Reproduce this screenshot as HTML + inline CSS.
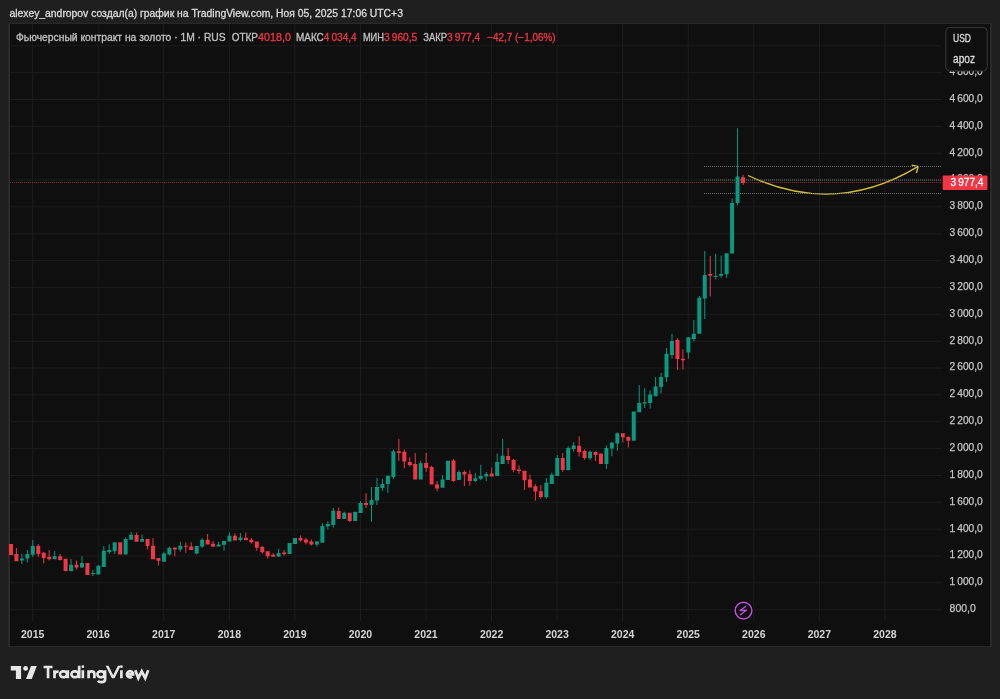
<!DOCTYPE html><html><head><meta charset="utf-8"><style>html,body{margin:0;padding:0;background:#1f1f1f;width:1000px;height:699px;overflow:hidden}svg{position:absolute;left:0;top:0;will-change:transform}text{font-family:"Liberation Sans",sans-serif}</style></head><body>
<svg width="1000" height="699" viewBox="0 0 1000 699">
<defs><clipPath id="pane"><rect x="9" y="24" width="933" height="597.5"/></clipPath></defs>
<rect x="8" y="23" width="984" height="624" fill="#292929"/>
<rect x="10" y="24" width="980" height="622" fill="#0f0f0f"/>
<path d="M10 609.70H942 M10 582.85H942 M10 555.99H942 M10 529.14H942 M10 502.29H942 M10 475.44H942 M10 448.58H942 M10 421.73H942 M10 394.88H942 M10 368.03H942 M10 341.17H942 M10 314.32H942 M10 287.47H942 M10 260.62H942 M10 233.76H942 M10 206.91H942 M10 180.06H942 M10 153.21H942 M10 126.35H942 M10 99.50H942 M10 72.65H942 M10 45.80H942 M32.65 24V621.5 M98.21 24V621.5 M163.77 24V621.5 M229.33 24V621.5 M294.88 24V621.5 M360.44 24V621.5 M426.00 24V621.5 M491.56 24V621.5 M557.12 24V621.5 M622.68 24V621.5 M688.23 24V621.5 M753.79 24V621.5 M819.35 24V621.5 M884.91 24V621.5" stroke="#1d1d1d" stroke-width="1" fill="none"/>
<text x="9.4" y="16.8" font-size="10" fill="#dbdbdb" stroke="#dbdbdb" stroke-width="0.3" textLength="393.5" lengthAdjust="spacingAndGlyphs">alexey_andropov создал(а) график на TradingView.com, Ноя 05, 2025 17:06 UTC+3</text>
<g clip-path="url(#pane)">
<path d="M748.1 175.5 Q835.3 216.8 918.2 166.4" stroke="#d2c03a" stroke-width="1.3" fill="none"/>
<path d="M911.6 165.2 L918.2 166.4 L916.4 173" stroke="#d2c03a" stroke-width="1.3" fill="none"/>
<line x1="10" y1="182.5" x2="942" y2="182.5" stroke="#f23645" stroke-width="1" stroke-dasharray="1 1" opacity="0.5"/>
<line x1="704" y1="166.5" x2="942" y2="166.5" stroke="#707070" stroke-width="1" stroke-dasharray="1 1"/>
<line x1="704" y1="180.0" x2="942" y2="180.0" stroke="#7a7a7a" stroke-width="1" stroke-dasharray="1 1"/>
<line x1="704" y1="193.5" x2="942" y2="193.5" stroke="#707070" stroke-width="1" stroke-dasharray="1 1"/>
<path d="M21.37 554.00h1V564.00h-1Z M19.87 558.50h4V560.50h-4Z M26.84 550.00h1V562.50h-1Z M25.34 554.00h4V558.50h-4Z M32.30 540.00h1V557.00h-1Z M30.80 546.00h4V554.80h-4Z M54.15 551.00h1V559.20h-1Z M52.65 556.20h4V559.20h-4Z M70.54 559.00h1V571.50h-1Z M69.04 564.80h4V571.00h-4Z M81.47 556.20h1V568.00h-1Z M79.97 563.00h4V567.50h-4Z M92.40 570.00h1V576.00h-1Z M90.90 573.00h4V574.00h-4Z M97.86 565.00h1V574.50h-1Z M96.36 565.80h4V574.50h-4Z M103.32 546.00h1V567.00h-1Z M101.82 550.80h4V567.00h-4Z M108.78 544.50h1V554.00h-1Z M107.28 550.00h4V552.00h-4Z M114.25 542.00h1V554.00h-1Z M112.75 542.50h4V551.20h-4Z M125.17 537.50h1V554.50h-1Z M123.67 539.00h4V554.50h-4Z M130.64 532.00h1V539.80h-1Z M129.14 534.80h4V539.80h-4Z M141.56 534.80h1V541.80h-1Z M140.06 539.00h4V541.80h-4Z M163.42 552.20h1V561.80h-1Z M161.92 553.50h4V561.80h-4Z M168.88 546.50h1V555.50h-1Z M167.38 547.80h4V554.50h-4Z M179.81 541.80h1V551.80h-1Z M178.31 545.80h4V549.50h-4Z M196.20 546.00h1V554.50h-1Z M194.70 546.00h4V553.50h-4Z M201.66 538.00h1V547.80h-1Z M200.16 539.80h4V546.50h-4Z M218.05 541.80h1V546.50h-1Z M216.55 544.50h4V546.50h-4Z M223.51 541.00h1V550.80h-1Z M222.01 541.00h4V544.80h-4Z M228.98 532.50h1V541.50h-1Z M227.48 535.80h4V541.50h-4Z M239.90 533.00h1V541.50h-1Z M238.40 537.50h4V540.00h-4Z M278.14 548.80h1V557.00h-1Z M276.64 553.00h4V556.50h-4Z M289.07 543.00h1V554.00h-1Z M287.57 543.00h4V554.00h-4Z M294.53 538.00h1V544.00h-1Z M293.03 538.00h4V544.00h-4Z M316.39 541.00h1V546.50h-1Z M314.89 541.50h4V544.50h-4Z M321.85 523.00h1V542.80h-1Z M320.35 526.00h4V542.80h-4Z M327.31 521.20h1V529.50h-1Z M325.81 524.00h4V526.20h-4Z M332.78 508.00h1V527.80h-1Z M331.28 510.80h4V525.00h-4Z M343.70 511.80h1V519.00h-1Z M342.20 512.80h4V519.00h-4Z M354.63 511.50h1V521.00h-1Z M353.13 512.00h4V521.00h-4Z M360.09 501.10h1V512.90h-1Z M358.59 503.00h4V512.90h-4Z M371.02 487.00h1V521.80h-1Z M369.52 500.00h4V504.70h-4Z M376.48 478.00h1V505.00h-1Z M374.98 486.90h4V500.40h-4Z M381.94 479.00h1V491.30h-1Z M380.44 484.00h4V487.90h-4Z M387.41 475.80h1V492.80h-1Z M385.91 475.80h4V483.90h-4Z M392.87 449.50h1V479.20h-1Z M391.37 451.20h4V477.00h-4Z M420.19 460.70h1V479.40h-1Z M418.69 463.20h4V479.40h-4Z M442.04 475.30h1V487.70h-1Z M440.54 479.50h4V487.70h-4Z M447.50 460.70h1V479.90h-1Z M446.00 460.70h4V479.90h-4Z M458.43 470.60h1V479.90h-1Z M456.93 471.90h4V479.90h-4Z M474.82 473.10h1V482.00h-1Z M473.32 478.20h4V480.90h-4Z M480.28 464.80h1V480.20h-1Z M478.78 475.90h4V478.80h-4Z M485.75 471.90h1V480.90h-1Z M484.25 474.00h4V476.50h-4Z M496.67 453.60h1V475.90h-1Z M495.17 461.90h4V475.90h-4Z M502.14 439.00h1V463.90h-1Z M500.64 455.70h4V463.90h-4Z M545.84 477.90h1V498.80h-1Z M544.34 482.80h4V497.30h-4Z M551.30 472.50h1V483.90h-1Z M549.80 474.80h4V483.90h-4Z M556.77 455.00h1V475.90h-1Z M555.27 458.00h4V475.90h-4Z M567.69 446.20h1V470.20h-1Z M566.19 447.90h4V470.20h-4Z M573.16 441.90h1V451.60h-1Z M571.66 445.60h4V449.00h-4Z M589.55 450.20h1V459.70h-1Z M588.05 451.80h4V458.20h-4Z M605.94 445.20h1V468.90h-1Z M604.44 448.00h4V464.00h-4Z M611.40 441.70h1V456.20h-1Z M609.90 442.80h4V448.60h-4Z M616.86 432.20h1V450.80h-1Z M615.36 433.30h4V443.60h-4Z M633.25 411.50h1V440.70h-1Z M631.75 411.50h4V440.70h-4Z M638.72 385.20h1V412.30h-1Z M637.22 402.90h4V412.30h-4Z M644.18 388.20h1V408.00h-1Z M642.68 402.30h4V403.50h-4Z M649.64 390.30h1V408.60h-1Z M648.14 394.60h4V402.90h-4Z M655.10 377.00h1V396.30h-1Z M653.60 386.50h4V396.30h-4Z M660.57 373.10h1V393.40h-1Z M659.07 377.00h4V387.00h-4Z M666.03 348.00h1V382.10h-1Z M664.53 353.80h4V377.20h-4Z M671.49 333.80h1V358.70h-1Z M669.99 340.90h4V355.10h-4Z M687.88 337.00h1V358.70h-1Z M686.38 337.30h4V352.50h-4Z M693.35 320.00h1V341.50h-1Z M691.85 333.80h4V339.00h-4Z M698.81 296.00h1V333.80h-1Z M697.31 297.80h4V333.80h-4Z M704.27 250.90h1V319.00h-1Z M702.77 274.90h4V298.40h-4Z M715.20 253.70h1V279.50h-1Z M713.70 276.00h4V277.00h-4Z M720.66 255.80h1V277.80h-1Z M719.16 274.10h4V275.70h-4Z M726.13 253.20h1V277.80h-1Z M724.63 253.20h4V274.30h-4Z M731.59 198.50h1V253.50h-1Z M730.09 203.00h4V253.50h-4Z M737.05 128.20h1V205.50h-1Z M735.55 176.60h4V203.00h-4Z" fill="#089981"/>
<path d="M10.45 544.00h1V555.00h-1Z M8.95 544.00h4V555.00h-4Z M15.91 548.00h1V561.20h-1Z M14.41 554.00h4V561.20h-4Z M37.76 544.00h1V557.00h-1Z M36.26 546.00h4V554.00h-4Z M43.23 552.00h1V563.50h-1Z M41.73 552.80h4V558.00h-4Z M48.69 550.00h1V560.50h-1Z M47.19 556.80h4V559.20h-4Z M59.62 554.00h1V560.50h-1Z M58.12 556.20h4V560.00h-4Z M65.08 558.80h1V571.50h-1Z M63.58 558.80h4V571.00h-4Z M76.01 560.50h1V569.50h-1Z M74.51 564.80h4V567.50h-4Z M86.93 563.00h1V575.00h-1Z M85.43 563.00h4V575.00h-4Z M119.71 542.20h1V554.50h-1Z M118.21 542.20h4V554.50h-4Z M136.10 532.50h1V541.80h-1Z M134.60 535.00h4V541.80h-4Z M147.03 539.00h1V549.50h-1Z M145.53 539.00h4V546.00h-4Z M152.49 538.00h1V559.20h-1Z M150.99 545.80h4V559.20h-4Z M157.95 558.00h1V565.50h-1Z M156.45 558.00h4V560.80h-4Z M174.34 547.50h1V556.20h-1Z M172.84 547.50h4V549.50h-4Z M185.27 542.50h1V552.80h-1Z M183.77 545.80h4V546.80h-4Z M190.73 542.20h1V550.00h-1Z M189.23 546.50h4V550.00h-4Z M207.12 534.00h1V544.50h-1Z M205.62 539.80h4V544.50h-4Z M212.59 541.00h1V546.80h-1Z M211.09 543.80h4V546.80h-4Z M234.44 533.20h1V540.50h-1Z M232.94 535.80h4V540.50h-4Z M245.36 532.50h1V540.20h-1Z M243.86 537.80h4V540.20h-4Z M250.83 538.00h1V543.50h-1Z M249.33 539.80h4V542.20h-4Z M256.29 541.50h1V550.80h-1Z M254.79 541.50h4V547.80h-4Z M261.75 546.00h1V553.50h-1Z M260.25 547.00h4V552.20h-4Z M267.22 551.20h1V558.50h-1Z M265.72 551.20h4V556.20h-4Z M272.68 553.00h1V556.80h-1Z M271.18 554.80h4V556.80h-4Z M283.61 550.00h1V555.50h-1Z M282.11 552.50h4V554.20h-4Z M300.00 535.50h1V541.50h-1Z M298.50 538.00h4V540.50h-4Z M305.46 537.80h1V544.50h-1Z M303.96 539.50h4V542.50h-4Z M310.92 539.50h1V545.50h-1Z M309.42 541.50h4V544.50h-4Z M338.24 507.50h1V519.00h-1Z M336.74 511.00h4V519.00h-4Z M349.17 512.80h1V522.00h-1Z M347.67 512.80h4V521.00h-4Z M365.56 493.30h1V508.00h-1Z M364.06 503.00h4V505.00h-4Z M398.33 438.90h1V460.90h-1Z M396.83 451.20h4V452.90h-4Z M403.80 449.50h1V468.30h-1Z M402.30 451.70h4V461.50h-4Z M409.26 457.20h1V466.60h-1Z M407.76 462.00h4V464.90h-4Z M414.72 452.90h1V479.40h-1Z M413.22 464.10h4V479.40h-4Z M425.65 452.90h1V471.80h-1Z M424.15 463.00h4V468.00h-4Z M431.11 465.70h1V484.40h-1Z M429.61 466.90h4V484.40h-4Z M436.58 480.90h1V491.20h-1Z M435.08 484.40h4V488.40h-4Z M452.97 459.10h1V481.70h-1Z M451.47 460.50h4V480.90h-4Z M463.89 470.60h1V485.90h-1Z M462.39 471.90h4V474.40h-4Z M469.36 470.20h1V485.70h-1Z M467.86 474.20h4V480.90h-4Z M491.21 467.60h1V476.50h-1Z M489.71 473.60h4V476.50h-4Z M507.60 447.90h1V463.90h-1Z M506.10 455.90h4V459.90h-4Z M513.06 459.10h1V472.20h-1Z M511.56 459.90h4V469.90h-4Z M518.52 465.30h1V473.80h-1Z M517.02 469.60h4V471.00h-4Z M523.99 470.80h1V490.00h-1Z M522.49 470.80h4V480.20h-4Z M529.45 474.40h1V487.40h-1Z M527.95 479.40h4V487.40h-4Z M534.91 484.30h1V500.50h-1Z M533.41 486.20h4V491.40h-4Z M540.38 485.10h1V498.80h-1Z M538.88 491.20h4V497.10h-4Z M562.23 453.00h1V471.70h-1Z M560.73 458.00h4V469.90h-4Z M578.62 436.20h1V456.50h-1Z M577.12 445.80h4V451.90h-4Z M584.08 449.50h1V459.80h-1Z M582.58 450.90h4V458.00h-4Z M595.01 451.50h1V460.90h-1Z M593.51 452.00h4V454.90h-4Z M600.47 452.90h1V464.00h-1Z M598.97 453.70h4V464.00h-4Z M622.33 433.20h1V442.40h-1Z M620.83 433.20h4V437.20h-4Z M627.79 436.30h1V447.50h-1Z M626.29 437.00h4V440.70h-4Z M676.96 338.30h1V369.90h-1Z M675.46 339.90h4V358.90h-4Z M682.42 349.30h1V369.50h-1Z M680.92 358.70h4V360.20h-4Z M709.74 256.00h1V296.60h-1Z M708.24 274.10h4V275.70h-4Z M742.52 174.70h1V185.00h-1Z M741.02 177.20h4V182.90h-4Z" fill="#f23645"/>
</g>
<text x="949.6" y="612.10" font-size="10.4" fill="#c7c7c7" stroke="#c7c7c7" stroke-width="0.25" textLength="26.2" lengthAdjust="spacingAndGlyphs">800,0</text>
<text x="949.6" y="585.25" font-size="10.4" fill="#c7c7c7" stroke="#c7c7c7" stroke-width="0.25" textLength="33.2" lengthAdjust="spacingAndGlyphs">1 000,0</text>
<text x="949.6" y="558.39" font-size="10.4" fill="#c7c7c7" stroke="#c7c7c7" stroke-width="0.25" textLength="33.2" lengthAdjust="spacingAndGlyphs">1 200,0</text>
<text x="949.6" y="531.54" font-size="10.4" fill="#c7c7c7" stroke="#c7c7c7" stroke-width="0.25" textLength="33.2" lengthAdjust="spacingAndGlyphs">1 400,0</text>
<text x="949.6" y="504.69" font-size="10.4" fill="#c7c7c7" stroke="#c7c7c7" stroke-width="0.25" textLength="33.2" lengthAdjust="spacingAndGlyphs">1 600,0</text>
<text x="949.6" y="477.84" font-size="10.4" fill="#c7c7c7" stroke="#c7c7c7" stroke-width="0.25" textLength="33.2" lengthAdjust="spacingAndGlyphs">1 800,0</text>
<text x="949.6" y="450.98" font-size="10.4" fill="#c7c7c7" stroke="#c7c7c7" stroke-width="0.25" textLength="33.2" lengthAdjust="spacingAndGlyphs">2 000,0</text>
<text x="949.6" y="424.13" font-size="10.4" fill="#c7c7c7" stroke="#c7c7c7" stroke-width="0.25" textLength="33.2" lengthAdjust="spacingAndGlyphs">2 200,0</text>
<text x="949.6" y="397.28" font-size="10.4" fill="#c7c7c7" stroke="#c7c7c7" stroke-width="0.25" textLength="33.2" lengthAdjust="spacingAndGlyphs">2 400,0</text>
<text x="949.6" y="370.43" font-size="10.4" fill="#c7c7c7" stroke="#c7c7c7" stroke-width="0.25" textLength="33.2" lengthAdjust="spacingAndGlyphs">2 600,0</text>
<text x="949.6" y="343.57" font-size="10.4" fill="#c7c7c7" stroke="#c7c7c7" stroke-width="0.25" textLength="33.2" lengthAdjust="spacingAndGlyphs">2 800,0</text>
<text x="949.6" y="316.72" font-size="10.4" fill="#c7c7c7" stroke="#c7c7c7" stroke-width="0.25" textLength="33.2" lengthAdjust="spacingAndGlyphs">3 000,0</text>
<text x="949.6" y="289.87" font-size="10.4" fill="#c7c7c7" stroke="#c7c7c7" stroke-width="0.25" textLength="33.2" lengthAdjust="spacingAndGlyphs">3 200,0</text>
<text x="949.6" y="263.02" font-size="10.4" fill="#c7c7c7" stroke="#c7c7c7" stroke-width="0.25" textLength="33.2" lengthAdjust="spacingAndGlyphs">3 400,0</text>
<text x="949.6" y="236.16" font-size="10.4" fill="#c7c7c7" stroke="#c7c7c7" stroke-width="0.25" textLength="33.2" lengthAdjust="spacingAndGlyphs">3 600,0</text>
<text x="949.6" y="209.31" font-size="10.4" fill="#c7c7c7" stroke="#c7c7c7" stroke-width="0.25" textLength="33.2" lengthAdjust="spacingAndGlyphs">3 800,0</text>
<text x="949.6" y="182.46" font-size="10.4" fill="#c7c7c7" stroke="#c7c7c7" stroke-width="0.25" textLength="33.2" lengthAdjust="spacingAndGlyphs">4 000,0</text>
<text x="949.6" y="155.61" font-size="10.4" fill="#c7c7c7" stroke="#c7c7c7" stroke-width="0.25" textLength="33.2" lengthAdjust="spacingAndGlyphs">4 200,0</text>
<text x="949.6" y="128.75" font-size="10.4" fill="#c7c7c7" stroke="#c7c7c7" stroke-width="0.25" textLength="33.2" lengthAdjust="spacingAndGlyphs">4 400,0</text>
<text x="949.6" y="101.90" font-size="10.4" fill="#c7c7c7" stroke="#c7c7c7" stroke-width="0.25" textLength="33.2" lengthAdjust="spacingAndGlyphs">4 600,0</text>
<text x="949.6" y="75.05" font-size="10.4" fill="#c7c7c7" stroke="#c7c7c7" stroke-width="0.25" textLength="33.2" lengthAdjust="spacingAndGlyphs">4 800,0</text>
<rect x="942.7" y="175.6" width="44.8" height="14.4" rx="1" fill="#f23645"/>
<text x="950.6" y="186" font-size="11" fill="#ffffff" stroke="#ffffff" stroke-width="0.3" textLength="32.8" lengthAdjust="spacingAndGlyphs">3 977,4</text>
<rect x="945.8" y="27.4" width="41.4" height="43.6" rx="4" fill="#0f0f0f" stroke="#383838" stroke-width="1"/>
<text x="953" y="41.9" font-size="11" fill="#dedede" stroke="#dedede" stroke-width="0.3" textLength="18" lengthAdjust="spacingAndGlyphs">USD</text>
<text x="953" y="62.5" font-size="12.5" fill="#dedede" stroke="#dedede" stroke-width="0.3" textLength="22" lengthAdjust="spacingAndGlyphs">apoz</text>
<text x="32.65" y="638" font-size="10.5" font-weight="bold" fill="#d5d5d5" text-anchor="middle">2015</text>
<text x="98.21" y="638" font-size="10.5" font-weight="bold" fill="#d5d5d5" text-anchor="middle">2016</text>
<text x="163.77" y="638" font-size="10.5" font-weight="bold" fill="#d5d5d5" text-anchor="middle">2017</text>
<text x="229.33" y="638" font-size="10.5" font-weight="bold" fill="#d5d5d5" text-anchor="middle">2018</text>
<text x="294.88" y="638" font-size="10.5" font-weight="bold" fill="#d5d5d5" text-anchor="middle">2019</text>
<text x="360.44" y="638" font-size="10.5" font-weight="bold" fill="#d5d5d5" text-anchor="middle">2020</text>
<text x="426.00" y="638" font-size="10.5" font-weight="bold" fill="#d5d5d5" text-anchor="middle">2021</text>
<text x="491.56" y="638" font-size="10.5" font-weight="bold" fill="#d5d5d5" text-anchor="middle">2022</text>
<text x="557.12" y="638" font-size="10.5" font-weight="bold" fill="#d5d5d5" text-anchor="middle">2023</text>
<text x="622.68" y="638" font-size="10.5" font-weight="bold" fill="#d5d5d5" text-anchor="middle">2024</text>
<text x="688.23" y="638" font-size="10.5" font-weight="bold" fill="#d5d5d5" text-anchor="middle">2025</text>
<text x="753.79" y="638" font-size="10.5" font-weight="bold" fill="#d5d5d5" text-anchor="middle">2026</text>
<text x="819.35" y="638" font-size="10.5" font-weight="bold" fill="#d5d5d5" text-anchor="middle">2027</text>
<text x="884.91" y="638" font-size="10.5" font-weight="bold" fill="#d5d5d5" text-anchor="middle">2028</text>
<circle cx="743.5" cy="610.6" r="8.4" fill="#0f0f0f" stroke="#000" stroke-width="3"/>
<circle cx="743.5" cy="610.6" r="8.4" fill="#0f0f0f" stroke="#c450e4" stroke-width="1.5"/>
<path d="M745.8 606.2 L740.2 610.6 L746.5 610.1 L740.5 614.7" stroke="#c450e4" stroke-width="1.3" fill="none" stroke-linejoin="round" stroke-linecap="round"/>
<text x="16" y="41.2" font-size="10.2" fill="#c2c2c2" stroke="#c2c2c2" stroke-width="0.3" textLength="209.7" lengthAdjust="spacingAndGlyphs">Фьючерсный контракт на золото · 1M · RUS</text>
<text x="231.7" y="41.2" font-size="10.2" fill="#c2c2c2" stroke="#c2c2c2" stroke-width="0.3" textLength="26.3" lengthAdjust="spacingAndGlyphs">ОТКР</text>
<text x="258" y="41.2" font-size="10.2" fill="#f23645" stroke="#f23645" stroke-width="0.3" textLength="33.0" lengthAdjust="spacingAndGlyphs">4018,0</text>
<text x="296" y="41.2" font-size="10.2" fill="#c2c2c2" stroke="#c2c2c2" stroke-width="0.3" textLength="27.8" lengthAdjust="spacingAndGlyphs">МАКС</text>
<text x="323.8" y="41.2" font-size="10.2" fill="#f23645" stroke="#f23645" stroke-width="0.3" textLength="32.9" lengthAdjust="spacingAndGlyphs">4 034,4</text>
<text x="362.9" y="41.2" font-size="10.2" fill="#c2c2c2" stroke="#c2c2c2" stroke-width="0.3" textLength="21.1" lengthAdjust="spacingAndGlyphs">МИН</text>
<text x="384" y="41.2" font-size="10.2" fill="#f23645" stroke="#f23645" stroke-width="0.3" textLength="33.3" lengthAdjust="spacingAndGlyphs">3 960,5</text>
<text x="423.2" y="41.2" font-size="10.2" fill="#c2c2c2" stroke="#c2c2c2" stroke-width="0.3" textLength="23.8" lengthAdjust="spacingAndGlyphs">ЗАКР</text>
<text x="447" y="41.2" font-size="10.2" fill="#f23645" stroke="#f23645" stroke-width="0.3" textLength="33.3" lengthAdjust="spacingAndGlyphs">3 977,4</text>
<text x="487.3" y="41.2" font-size="10.2" fill="#f23645" stroke="#f23645" stroke-width="0.3" textLength="68.2" lengthAdjust="spacingAndGlyphs">−42,7 (−1,06%)</text>
<g fill="#e6e6e6">
<path d="M10.8 666H21.1V678.9H15.9V670.5H10.8Z"/>
<circle cx="25.6" cy="668.4" r="2.4"/>
<path d="M31 666H36.8L31.8 678.9H26Z"/>
<path fill="none" stroke="#e6e6e6" stroke-width="2.7" d="M43.6 667H52.5 M48.05 667V678.2 M54.5 670.3V678.2 M54.5 675.2C54.5 672.6 55.9 671.5 58.7 671.5 M63.5 671.4A2.95 2.95 0 1 0 63.5 677.2A2.95 2.95 0 1 0 63.5 671.4Z M67.8 670.3V678.2 M74.9 671.4A2.95 2.95 0 1 0 74.9 677.2A2.95 2.95 0 1 0 74.9 671.4Z M79.2 665.8V678.2 M82.85 670.3V678.2 M88.6 670.3V678.2 M88.6 674.2C88.6 672.2 89.9 671.4 91.5 671.4C93.1 671.4 94.4 672.2 94.4 674.2V678.2 M100.9 671.4A2.95 2.95 0 1 0 100.9 677.2A2.95 2.95 0 1 0 100.9 671.4Z M105.1 670.3V679.2C105.1 681.2 103.6 682.2 101.2 682.2C99.7 682.2 98.6 681.7 97.9 680.9 M121.4 670.3V678.2 M126.9 674.3H133.1A3.1 3.1 0 1 0 132.2 676.5 M135.3 670.3L138.3 678.1L141.75 671.3L145.2 678.1L148.2 670.3"/>
<path d="M105.7 665.8H108.5L113.2 675.3L117.9 665.8H120.7L114.5 678.2H111.9Z"/>
<circle cx="82.85" cy="666.7" r="1.35"/><circle cx="121.4" cy="666.7" r="1.35"/>
</g>
</svg></body></html>
